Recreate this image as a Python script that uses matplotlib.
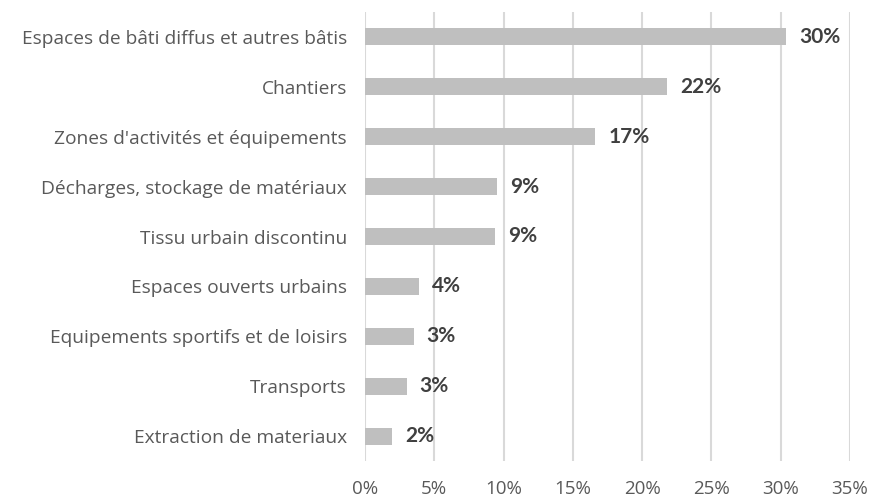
import matplotlib
matplotlib.use("Agg")
import matplotlib.pyplot as plt

categories = [
    "Espaces de bâti diffus et autres bâtis",
    "Chantiers",
    "Zones d'activités et équipements",
    "Décharges, stockage de matériaux",
    "Tissu urbain discontinu",
    "Espaces ouverts urbains",
    "Equipements sportifs et de loisirs",
    "Transports",
    "Extraction de materiaux",
]
values = [30.4, 21.8, 16.6, 9.5, 9.4, 3.9, 3.5, 3.0, 1.95]
value_labels = ["30%", "22%", "17%", "9%", "9%", "4%", "3%", "3%", "2%"]
xticks = [0, 5, 10, 15, 20, 25, 30, 35]
xtick_labels = ["0%", "5%", "10%", "15%", "20%", "25%", "30%", "35%"]

fig = plt.figure(figsize=(8.72, 4.97), dpi=100)
ax = fig.add_axes([365/872, 1-461/497, (850-365)/872, (461-12)/497])

y = list(range(len(categories)))
ax.barh(y, values, height=0.34, color="#BFBFBF", zorder=3)
ax.set_ylim(len(categories)-0.5, -0.5)
ax.set_xlim(0, 35)
ax.set_xticks(xticks)
ax.set_xticklabels(xtick_labels, fontsize=13.5, color="#595959", family="Open Sans")
ax.set_yticks(y)
ax.set_yticklabels(categories, fontsize=13.8, color="#595959", family="Open Sans")
ax.tick_params(axis="both", length=0)
ax.tick_params(axis="y", pad=13)
ax.tick_params(axis="x", pad=14)
ax.grid(axis="x", color="#D9D9D9", linewidth=1.5, zorder=0)
for s in ax.spines.values():
    s.set_visible(False)

for yi, v, lab in zip(y, values, value_labels):
    ax.text(v + 0.95, yi, lab, va="center", ha="left", fontsize=15,
            fontweight="bold", color="#404040", family="Lato")

fig.savefig("out.png", dpi=100)
